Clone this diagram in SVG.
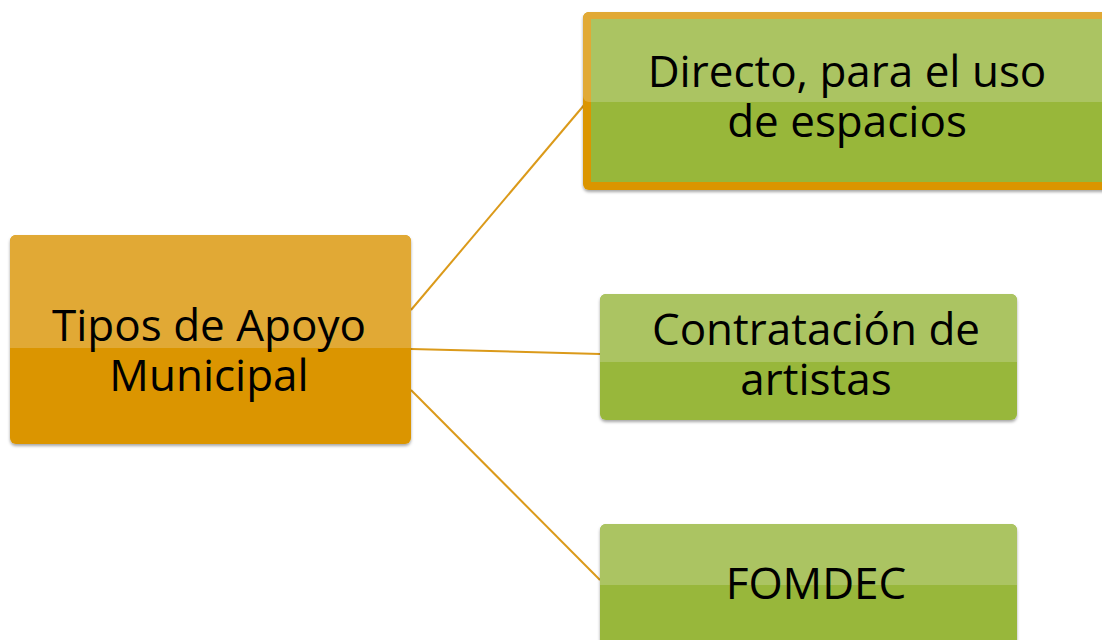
<svg xmlns="http://www.w3.org/2000/svg" width="1102" height="640" viewBox="0 0 1102 640">
<style>
.t{font-family:"Open Sans","Liberation Sans",sans-serif;font-size:44px;fill:#000;text-anchor:middle}
.con{stroke:#DB9A1A;stroke-width:2;fill:none}
</style>
<defs>
<filter id="sh" x="-5%" y="-5%" width="110%" height="115%">
<feDropShadow dx="0" dy="2" stdDeviation="1.5" flood-color="#000" flood-opacity="0.35"/>
</filter>
<clipPath id="cL"><rect x="10" y="235" width="401" height="209" rx="6"/></clipPath>
<clipPath id="cM"><rect x="600" y="294" width="417" height="126" rx="6"/></clipPath>
<clipPath id="cB"><rect x="600" y="524" width="417" height="130" rx="6"/></clipPath>
</defs>
<g id="connectors">
<line class="con" x1="411" y1="310" x2="585" y2="104"/>
<line class="con" x1="411" y1="349" x2="600" y2="354"/>
<line class="con" x1="411" y1="390" x2="600" y2="580"/>
</g>
<g id="node-tipos">
<rect x="10" y="235" width="401" height="209" rx="6" fill="#DB9500" filter="url(#sh)"/>
<rect x="10" y="235" width="401" height="113" fill="#E1A935" clip-path="url(#cL)"/>
<text class="t" x="209" y="341">Tipos de Apoyo</text>
<text class="t" x="209" y="391">Municipal</text>
</g>
<g id="node-directo">
<rect x="583" y="12" width="540" height="178" rx="6" fill="#DB9500" filter="url(#sh)"/>
<rect x="583" y="12" width="540" height="90" rx="6" fill="#E1A935"/>
<rect x="591" y="19" width="530" height="163" fill="#98B73A"/>
<rect x="591" y="19" width="530" height="83" fill="#ABC462"/>
<text class="t" x="847" y="87">Directo, para el uso</text>
<text class="t" x="847" y="137">de espacios</text>
</g>
<g id="node-contratacion">
<rect x="600" y="294" width="417" height="126" rx="6" fill="#98B73A" filter="url(#sh)"/>
<rect x="600" y="294" width="417" height="68" fill="#ABC462" clip-path="url(#cM)"/>
<text class="t" x="816" y="345">Contratación de</text>
<text class="t" x="816" y="395">artistas</text>
</g>
<g id="node-fomdec">
<rect x="600" y="524" width="417" height="130" rx="6" fill="#98B73A" filter="url(#sh)"/>
<rect x="600" y="524" width="417" height="61" fill="#ABC462" clip-path="url(#cB)"/>
<text class="t" x="816" y="599">FOMDEC</text>
</g>
</svg>
